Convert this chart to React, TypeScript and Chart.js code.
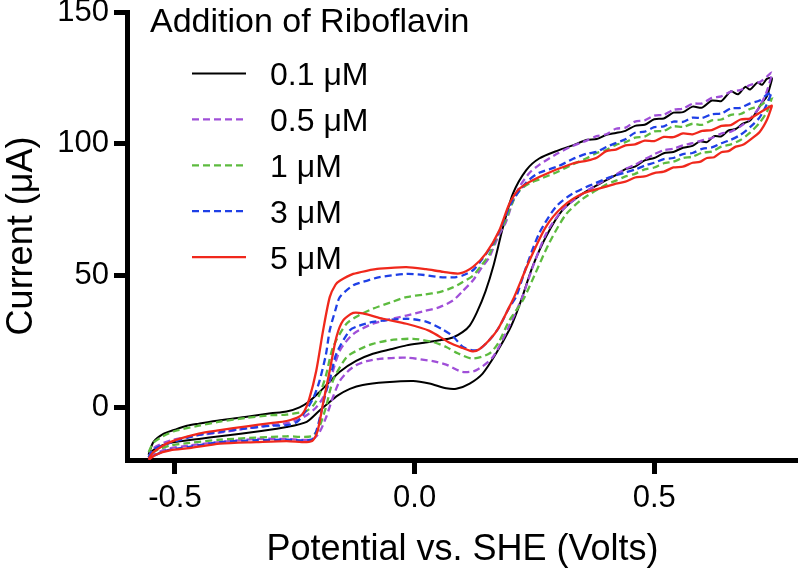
import React, { useEffect, useRef } from 'react';
import { Chart, registerables } from 'chart.js';

Chart.register(...registerables);

// ---- Text ----
const legendTitle = 'Addition of Riboflavin';
const seriesLabels = ['0.1 μM', '0.5 μM', '1 μM', '3 μM', '5 μM'];
const xTitle = 'Potential vs. SHE (Volts)';
const yTitle = 'Current (μA)';
const xTicks = [-0.5, 0, 0.5];
const yTicks = [0, 50, 100, 150];

// ---- Data: [potential (V), current (uA)] ----
// 0.1 uM
const c01Upper: [number, number][] = [
  [-0.555, -18], [-0.545, -13.2], [-0.525, -10.2], [-0.5, -8.5], [-0.475, -7], [-0.45, -6.2],
  [-0.406, -4.9], [-0.35, -3.6], [-0.3, -2.3], [-0.267, -1.6], [-0.24, 0], [-0.22, 2.2],
  [-0.2, 5.5], [-0.18, 9.2], [-0.156, 13.5], [-0.122, 17.6], [-0.087, 20.3], [-0.05, 22],
  [-0.017, 23.5], [0.02, 24.5], [0.052, 25.4], [0.08, 26.5], [0.1, 28.5], [0.115, 31],
  [0.13, 36], [0.148, 44], [0.165, 54], [0.184, 68], [0.205, 81], [0.233, 90], [0.26, 94.4],
  [0.3, 97.5], [0.33, 99.4], [0.36, 101.5], [0.38, 101.8], [0.4, 103.4], [0.42, 104.1],
  [0.44, 104.9], [0.46, 106.8], [0.48, 107.2], [0.5, 109.3], [0.52, 109.6], [0.54, 111.8],
  [0.56, 112.0], [0.58, 114.1], [0.6, 113.7], [0.62, 116.4], [0.64, 116.2], [0.66, 119.9],
  [0.675, 118.8], [0.69, 121.6], [0.7, 120.6], [0.715, 123.2], [0.725, 122.4], [0.735, 124.6],
  [0.745, 125],
];
const c01Lower: [number, number][] = [
  [0.745, 124], [0.735, 118], [0.725, 115.6], [0.71, 111.2], [0.7, 108.8], [0.685, 107.6],
  [0.67, 105.6], [0.655, 105.1], [0.64, 102.8], [0.625, 102.9], [0.61, 100.6], [0.595, 100.9],
  [0.58, 99.2], [0.56, 98.5], [0.54, 96.9], [0.52, 96.4], [0.5, 94.6], [0.48, 93.7],
  [0.46, 91.3], [0.44, 90.4], [0.42, 88.1], [0.4, 86.2], [0.35, 81], [0.309, 74.9],
  [0.275, 65], [0.246, 53.3], [0.225, 42], [0.21, 34.5], [0.198, 29.5], [0.17, 20.4],
  [0.142, 12.8], [0.115, 9], [0.087, 7], [0.066, 7.2], [0.031, 9], [-0.003, 10], [-0.06, 9.5],
  [-0.108, 8.5], [-0.135, 7], [-0.16, 4.5], [-0.184, 1], [-0.2, -1.5], [-0.225, -5.5],
  [-0.267, -7.5], [-0.32, -9], [-0.406, -11], [-0.45, -12], [-0.51, -13.5], [-0.54, -15.5],
  [-0.555, -18],
];
// 0.5 uM
const c05Upper: [number, number][] = [
  [-0.555, -19], [-0.545, -15.5], [-0.51, -12.6], [-0.45, -10.5], [-0.406, -9.6], [-0.35, -8],
  [-0.3, -6.8], [-0.267, -6], [-0.24, -4.5], [-0.225, -3], [-0.205, 0], [-0.19, 4],
  [-0.175, 11], [-0.156, 21.5], [-0.128, 27.8], [-0.087, 31.7], [-0.05, 33.5], [-0.017, 34.8],
  [0.02, 36.5], [0.052, 38], [0.08, 40.5], [0.1, 44], [0.122, 48.2], [0.14, 53], [0.156, 57],
  [0.175, 65], [0.19, 70], [0.205, 78], [0.22, 84], [0.24, 89], [0.26, 92], [0.3, 96.5],
  [0.33, 99.2], [0.36, 101.3], [0.38, 102.9], [0.4, 103.6], [0.42, 105.7], [0.44, 106.1],
  [0.46, 108.4], [0.48, 108.9], [0.5, 110.7], [0.52, 111.0], [0.54, 112.9], [0.56, 113.3],
  [0.58, 115.2], [0.6, 115.3], [0.62, 117.4], [0.64, 118.0], [0.66, 119.8], [0.68, 120.4],
  [0.7, 122.3], [0.72, 123.4], [0.735, 125.5], [0.745, 127],
];
const c05Lower: [number, number][] = [
  [0.745, 126], [0.735, 120], [0.72, 114], [0.7, 109.5], [0.68, 106.6], [0.66, 104.6],
  [0.64, 103.9], [0.62, 102.2], [0.6, 101.3], [0.58, 100.2], [0.56, 99.4], [0.54, 98.1],
  [0.52, 97.6], [0.5, 96.0], [0.48, 94.1], [0.46, 92.0], [0.44, 90.5], [0.42, 88.3],
  [0.4, 86.5], [0.35, 81], [0.309, 75], [0.275, 66], [0.246, 53],
  [0.225, 42], [0.198, 31], [0.163, 19], [0.128, 14], [0.1, 13.4], [0.066, 16.2], [0.038, 17.5],
  [-0.017, 18.8], [-0.073, 18.4], [-0.1, 17.5], [-0.122, 16], [-0.14, 13.5], [-0.156, 10],
  [-0.17, 4], [-0.185, -4], [-0.2, -10], [-0.215, -12.3], [-0.267, -12], [-0.33, -12],
  [-0.406, -13.2], [-0.47, -14.5], [-0.52, -16], [-0.555, -19],
];
// 1 uM
const c1Upper: [number, number][] = [
  [-0.555, -17], [-0.545, -13.5], [-0.525, -11], [-0.5, -9], [-0.45, -7], [-0.406, -5.4],
  [-0.35, -4], [-0.3, -3], [-0.267, -2.8], [-0.24, -2], [-0.226, -1.5], [-0.21, 1],
  [-0.198, 5], [-0.185, 12], [-0.17, 22.9], [-0.142, 31.7], [-0.115, 35], [-0.087, 37.4],
  [-0.05, 39.8], [-0.017, 41.8], [0.02, 42.8], [0.052, 43.7], [0.08, 45.5], [0.1, 47.5],
  [0.122, 50], [0.14, 54], [0.156, 58], [0.175, 66], [0.19, 71], [0.205, 78], [0.22, 82.5],
  [0.24, 85], [0.26, 86.5], [0.3, 89.5], [0.33, 92.2], [0.36, 94.6], [0.38, 96.5],
  [0.4, 97.6], [0.42, 99.6], [0.44, 100.6], [0.46, 102.3], [0.48, 102.7], [0.5, 104.7],
  [0.52, 104.9], [0.54, 106.6], [0.56, 106.4], [0.58, 107.6], [0.6, 107.2], [0.62, 108.9],
  [0.64, 109.2], [0.66, 111.0], [0.68, 111.3], [0.7, 113.2], [0.72, 114.3], [0.735, 116.4],
  [0.745, 117],
];
const c1Lower: [number, number][] = [
  [0.745, 117], [0.735, 112], [0.72, 108], [0.7, 104.2], [0.68, 101.4], [0.66, 99.8],
  [0.64, 98.9], [0.62, 97.0], [0.6, 96.6], [0.58, 95.1], [0.56, 94.6], [0.54, 93.2],
  [0.52, 92.6], [0.5, 91.0], [0.48, 90.3], [0.46, 88.6], [0.44, 87.6], [0.42, 86.0],
  [0.4, 84.5], [0.35, 79], [0.315, 73], [0.28, 62], [0.25, 50],
  [0.226, 40.6], [0.198, 33], [0.175, 24.5], [0.156, 20.4], [0.121, 18.5], [0.09, 20.5],
  [0.066, 22.9], [0.038, 24.8], [-0.003, 26], [-0.05, 25.5], [-0.087, 24.1], [-0.115, 22],
  [-0.142, 19], [-0.17, 10.2], [-0.185, 0], [-0.2, -8], [-0.215, -11], [-0.267, -11],
  [-0.33, -11.5], [-0.406, -12.3], [-0.47, -13.5], [-0.51, -14.5], [-0.54, -16.5],
  [-0.555, -18.5],
];
// 3 uM
const c3Upper: [number, number][] = [
  [-0.555, -19], [-0.545, -16], [-0.51, -13.5], [-0.45, -10.5], [-0.406, -9.3], [-0.35, -8],
  [-0.3, -7], [-0.267, -6.8], [-0.245, -5.5], [-0.226, -1.1], [-0.21, 4], [-0.198, 10.2],
  [-0.185, 20], [-0.177, 29.2], [-0.165, 37], [-0.156, 41.8], [-0.128, 46.3], [-0.1, 48],
  [-0.073, 49.4], [-0.017, 50.6], [0.02, 50.2], [0.052, 49.4], [0.08, 49.3], [0.1, 50],
  [0.122, 52], [0.14, 56], [0.16, 61], [0.18, 68], [0.2, 77], [0.22, 82.5], [0.24, 86.5],
  [0.26, 89], [0.3, 91.5], [0.33, 94.2], [0.36, 96.3], [0.38, 96.9], [0.4, 98.8],
  [0.42, 100.3], [0.44, 101.7], [0.46, 104.2], [0.48, 104.6], [0.5, 106.3], [0.52, 106.6],
  [0.54, 108.4], [0.56, 108.3], [0.58, 109.9], [0.6, 109.8], [0.62, 111.2], [0.64, 111.5],
  [0.66, 113.4], [0.68, 113.6], [0.7, 115.3], [0.72, 116.4], [0.735, 118.6], [0.745, 119.5],
];
const c3Lower: [number, number][] = [
  [0.745, 119.5], [0.735, 115], [0.72, 110], [0.7, 106.3], [0.68, 103.4], [0.66, 101.5],
  [0.64, 100.2], [0.62, 98.6], [0.6, 98.1], [0.58, 96.5], [0.56, 96.1], [0.54, 94.6],
  [0.52, 94.2], [0.5, 92.8], [0.48, 91.7], [0.46, 90.2], [0.44, 89.1], [0.42, 88.0],
  [0.4, 86.8], [0.33, 81.1], [0.295, 76.1], [0.26, 66],
  [0.233, 53.3], [0.212, 42], [0.198, 38], [0.175, 30], [0.156, 25.5], [0.135, 22],
  [0.121, 21.6], [0.1, 23], [0.08, 27], [0.059, 29.5], [0.024, 32.5], [-0.017, 33.6],
  [-0.087, 32.4], [-0.115, 31], [-0.135, 29.2], [-0.163, 20.4], [-0.175, 12], [-0.184, 6.5],
  [-0.195, -2], [-0.205, -9], [-0.215, -12.3], [-0.267, -12.3], [-0.33, -12.5],
  [-0.406, -13.2], [-0.47, -15], [-0.52, -16.5], [-0.555, -19.5],
];
// 5 uM
const c5Upper: [number, number][] = [
  [-0.555, -19.5], [-0.545, -17], [-0.51, -13.2], [-0.45, -10], [-0.406, -8.7], [-0.35, -7.2],
  [-0.3, -6], [-0.267, -5.2], [-0.24, -3.5], [-0.23, -1.5], [-0.22, 3], [-0.205, 14],
  [-0.191, 29], [-0.177, 41.8], [-0.165, 46.5], [-0.156, 48], [-0.128, 50.6], [-0.1, 51.8],
  [-0.073, 52.6], [-0.017, 53.2], [0.024, 52.4], [0.06, 51.4], [0.094, 50.8], [0.122, 53.3],
  [0.149, 58.4], [0.177, 67.2], [0.198, 77.3], [0.219, 83], [0.26, 87.4], [0.33, 92.5],
  [0.36, 93.6], [0.38, 94.7], [0.4, 97.2], [0.42, 97.8], [0.44, 99.4], [0.46, 99.8],
  [0.48, 101.2], [0.5, 101.0], [0.52, 102.6], [0.54, 102.5], [0.56, 103.9], [0.58, 103.6],
  [0.6, 104.9], [0.62, 105.2], [0.64, 106.8], [0.66, 107.1], [0.68, 109.2], [0.7, 109.6],
  [0.72, 111.8], [0.735, 113.4], [0.745, 114.5],
];
const c5Lower: [number, number][] = [
  [0.745, 114], [0.735, 109], [0.72, 104.5], [0.7, 101.5], [0.685, 99.6], [0.67, 98.9],
  [0.655, 97.2], [0.64, 96.8], [0.625, 94.9], [0.61, 94.6], [0.595, 93.1], [0.58, 92.8],
  [0.56, 91.3], [0.54, 91.0], [0.52, 89.4], [0.5, 88.9], [0.48, 87.6], [0.46, 87.2],
  [0.44, 85.6], [0.42, 84.9], [0.4, 83.7], [0.351, 81.1], [0.309, 76.1],
  [0.274, 68.5], [0.24, 55.8], [0.208, 41.9], [0.198, 38.2], [0.175, 30], [0.156, 25.5],
  [0.135, 22], [0.121, 21.2], [0.1, 22.5], [0.073, 24.5], [0.031, 29], [-0.017, 31.7],
  [-0.066, 33.6], [-0.108, 35.6], [-0.128, 35.8], [-0.149, 33], [-0.163, 26.7], [-0.177, 14],
  [-0.191, 1.4], [-0.202, -8.7], [-0.212, -12.5], [-0.225, -13.2], [-0.267, -12.8],
  [-0.33, -13.2], [-0.406, -13.8], [-0.47, -15.5], [-0.51, -16.3], [-0.54, -18], [-0.555, -20],
];

const seriesUpper = [c01Upper, c05Upper, c1Upper, c3Upper, c5Upper];
const seriesLower = [c01Lower, c05Lower, c1Lower, c3Lower, c5Lower];
const seriesColors = ['#000000', '#A04FD8', '#5DBB3F', '#1E3FE6', '#F0281C'];
const seriesDash: number[][] = [[], [7, 4], [7, 4], [7, 4], []];

const FONT = '"Liberation Sans", Arial, Helvetica, sans-serif';

const legendPlugin = {
  id: 'cvLegend',
  afterDraw(chart: any) {
    const ctx = chart.ctx as CanvasRenderingContext2D;
    ctx.save();
    ctx.fillStyle = '#000';
    ctx.textBaseline = 'alphabetic';
    ctx.textAlign = 'left';
    ctx.font = `34px ${FONT}`;
    ctx.fillText(legendTitle, 150, 32);
    chart.data.datasets.forEach((ds: any, i: number) => {
      const cy = 73.5 + i * 45.9;
      ctx.beginPath();
      ctx.strokeStyle = ds.borderColor;
      ctx.lineWidth = ds.borderWidth;
      ctx.setLineDash(ds.borderDash || []);
      ctx.moveTo(192, cy);
      ctx.lineTo(246, cy);
      ctx.stroke();
      ctx.setLineDash([]);
      ctx.font = `32px ${FONT}`;
      ctx.fillText(ds.label, 270, cy + 11.5);
    });
    ctx.restore();
  },
};

export default function App() {
  const ref = useRef<HTMLCanvasElement | null>(null);
  useEffect(() => {
    if (!ref.current) return;
    const datasets = seriesLabels.map((label, i) => ({
      label,
      data: [...seriesUpper[i], ...seriesLower[i]].map(([x, y]) => ({ x, y })),
      borderColor: seriesColors[i],
      backgroundColor: seriesColors[i],
      borderWidth: i === 0 ? 2 : 2.3,
      borderDash: seriesDash[i],
      pointRadius: 0,
      tension: 0.25,
      fill: false,
      order: 5 - i,
    }));
    const chart = new Chart(ref.current, {
      type: 'line',
      data: { datasets },
      options: {
        animation: false,
        responsive: false,
        devicePixelRatio: 1,
        layout: { padding: { top: 12, left: 0, right: 0, bottom: 0 } },
        plugins: { legend: { display: false }, tooltip: { enabled: false } },
        scales: {
          x: {
            type: 'linear',
            min: -0.6,
            max: 0.8,
            afterBuildTicks: (s: any) => { s.ticks = xTicks.map((v) => ({ value: v })); },
            afterFit: (s: any) => { s.height = 110; s.paddingLeft = 0; s.paddingRight = 0; },
            border: { display: true, color: '#000', width: 5 },
            grid: { display: true, drawOnChartArea: false, drawTicks: true, tickLength: 14, lineWidth: 5, color: '#000' },
            ticks: {
              color: '#000', font: { size: 31, family: FONT }, padding: 6, maxRotation: 0, autoSkip: false,
              callback: (v: any) => Number(v).toFixed(1),
            },
            title: { display: true, text: xTitle, color: '#000', font: { size: 36, family: FONT }, padding: { top: 0, bottom: -2 } },
          },
          y: {
            type: 'linear',
            min: -20,
            max: 150,
            afterBuildTicks: (s: any) => { s.ticks = yTicks.map((v) => ({ value: v })); },
            afterFit: (s: any) => { s.width = 127; s.paddingTop = 0; s.paddingBottom = 0; },
            border: { display: true, color: '#000', width: 5 },
            grid: { display: true, drawOnChartArea: false, drawTicks: true, tickLength: 13, lineWidth: 5, color: '#000' },
            ticks: {
              color: '#000', font: { size: 31, family: FONT }, padding: 5, autoSkip: false,
              callback: (v: any) => String(v),
            },
            title: { display: true, text: yTitle, color: '#000', font: { size: 36, family: FONT }, padding: { top: 0, bottom: 0 } },
          },
        },
      },
      plugins: [legendPlugin],
    });
    return () => chart.destroy();
  }, []);
  return (
    <div style={{ position: 'absolute', left: 0, top: 0, width: 798, height: 570, background: '#fff' }}>
      <canvas ref={ref} width={798} height={570} />
    </div>
  );
}
